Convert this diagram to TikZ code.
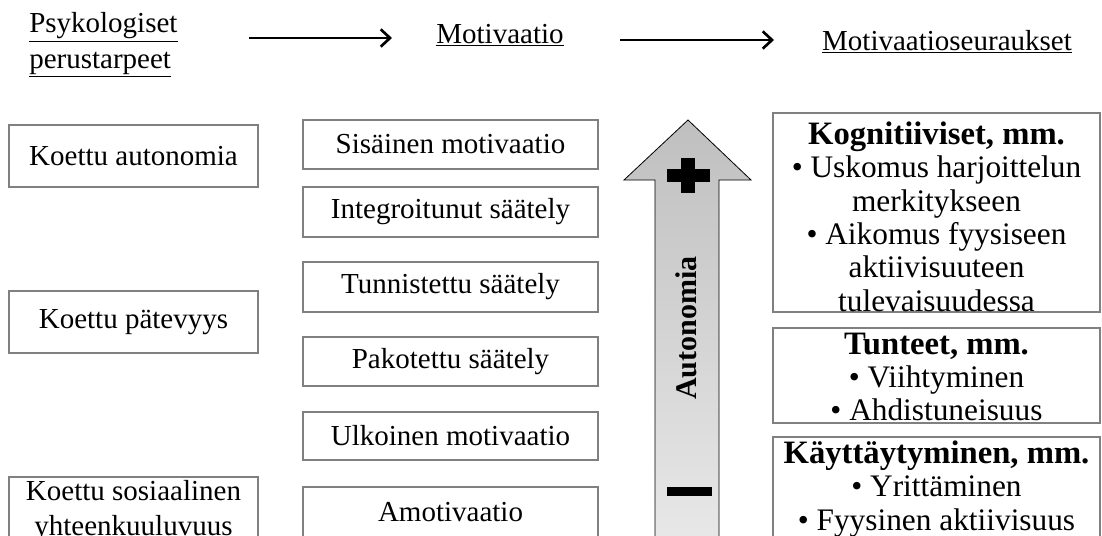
\documentclass[tikz,border=0pt]{standalone}
\usepackage{fontspec}
\setmainfont{Liberation Serif}
\usetikzlibrary{arrows.meta,fit}
\newcommand{\myrhfont}{\fontsize{24.5}{25}\selectfont\bfseries}
\begin{document}
\begin{tikzpicture}[x=0.75pt,y=-0.75pt,
  box/.style={draw=black!50, line width=0.8pt, inner sep=0pt},
  txt/.style={font=\fontsize{21.75}{26}\selectfont, align=center, inner sep=0pt},
  rtxt/.style={font=\fontsize{23.5}{25}\selectfont, align=center, inner sep=0pt},
  hdr/.style={font=\fontsize{21.75}{26.5}\selectfont, align=left, inner sep=0pt},
  harrow/.style={line width=2pt, -{Straight Barb[length=7pt,width=13pt,line width=2pt]}}]
\useasboundingbox (0,0) rectangle (1102,535);
\clip (0,0) rectangle (1102,535);

% headers
\node[hdr, anchor=west] (h1) at (29,45) {\underline{Psykologiset}\\\underline{perustarpeet}};
\node[hdr] (h2) at (500,35) {\underline{Motivaatio}};
\node[hdr] (h3) at (947,42) {\underline{Motivaatioseuraukset}};
\coordinate (a1s) at (249,38); \coordinate (a1e) at (392,38);
\coordinate (a2s) at (620,40); \coordinate (a2e) at (774,40);
\draw[harrow] (a1s) -- (a1e);
\draw[harrow] (a2s) -- (a2e);

% left column
\node[box, fit={(9,125) (258,187)}] (ka) {};
\node[txt] (kat) at (ka.center) {Koettu autonomia};
\node[box, fit={(9,291) (258,353)}] (kp) {};
\node[txt] (kpt) at (kp.center) {Koettu pätevyys};
\node[box, fit={(9,477) (258,570)}] (ks) {};
\node[txt] (kst) at (133.5,511) {Koettu sosiaalinen\\yhteenkuuluvuus};

% middle column
\node[box, fit={(303,120) (598,169)}] (m1) {};
\node[txt] at (m1.center) {Sisäinen motivaatio};
\node[box, fit={(303,187) (598,237)}] (m2) {};
\node[txt] at (m2.center) {Integroitunut säätely};
\node[box, fit={(303,262) (598,312)}] (m3) {};
\node[txt] at (m3.center) {Tunnistettu säätely};
\node[box, fit={(303,337) (598,386)}] (m4) {};
\node[txt] at (m4.center) {Pakotettu säätely};
\node[box, fit={(303,412) (598,460)}] (m5) {};
\node[txt] at (m5.center) {Ulkoinen motivaatio};
\node[box, fit={(303,487) (598,537)}] (m6) {};
\node[txt] at (m6.center) {Amotivaatio};

% autonomy arrow
\path[draw=black, line width=0.6pt, top color=black!25, bottom color=black!8]
  (688,120) -- (751,180) -- (719,180) -- (719,570) -- (655,570) -- (655,180) -- (624,180) -- cycle;
\fill (667,169) rectangle (710,182);
\fill (681,158) rectangle (695,193);
\fill (667,487) rectangle (712,496);
\node[font=\fontsize{22.5}{26}\selectfont\bfseries, rotate=90, inner sep=0pt] (aut) at (686,328) {Autonomia};

% right column
\node[box, fit={(773,113) (1100,312)}] (r1) {};
\node[rtxt] (r1t) at (936.5,216.5) {{\myrhfont Kognitiiviset, mm.}\\• Uskomus harjoittelun\\merkitykseen\\• Aikomus fyysiseen\\aktiivisuuteen\\tulevaisuudessa};
\node[box, fit={(773,328) (1100,423)}] (r2) {};
\node[rtxt] (r2t) at (936.5,377) {{\myrhfont Tunteet, mm.}\\• Viihtyminen\\• Ahdistuneisuus};
\node[box, fit={(773,437) (1100,570)}] (r3) {};
\node[rtxt] (r3t) at (936.5,489) {{\myrhfont Käyttäytyminen, mm.}\\• Yrittäminen\\• Fyysinen aktiivisuus};
\end{tikzpicture}
\end{document}
